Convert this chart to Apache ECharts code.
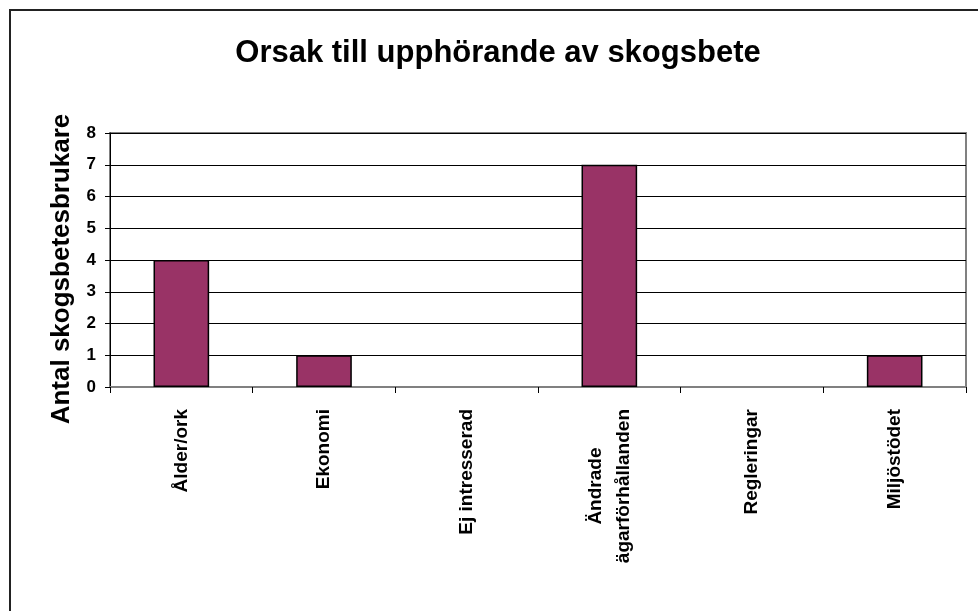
<!DOCTYPE html>
<html>
<head>
<meta charset="utf-8">
<script src="https://cdn.jsdelivr.net/npm/echarts@6/dist/echarts.min.js"></script>
<style>
  html, body { margin: 0; padding: 0; background: #fff; }
  #frame { position: absolute; left: 9px; top: 9px; width: 1000px; height: 700px;
    border-left: 2px solid #222; border-top: 2px solid #222; box-sizing: border-box; }
  #chart { position: absolute; left: 0; top: 0; width: 978px; height: 611px; }
</style>
</head>
<body>
<div id="frame"></div>
<div id="chart"></div>
<script>
// Orsak till upphörande av skogsbete
const categories = ['Ålder/ork', 'Ekonomi', 'Ej intresserad', 'Ändrade\nägarförhållanden', 'Regleringar', 'Miljöstödet']
const counts = [4, 1, 0, 7, 0, 1]
const yTicks = [0, 1, 2, 3, 4, 5, 6, 7, 8]

const FONT = 'Liberation Sans, Arial, sans-serif'

const chart = echarts.init(document.getElementById('chart'), null, { renderer: 'canvas' })

chart.setOption({
  backgroundColor: 'transparent',
  animation: false,
  title: {
    text: 'Orsak till upphörande av skogsbete',
    left: 493,
    top: 33,
    textAlign: 'center',
    textStyle: { fontFamily: FONT, fontWeight: 'bold', fontSize: 31, color: '#000' },
  },
  grid: {
    left: 110, right: 12, top: 133, bottom: 224,
    show: true, borderColor: '#808080', borderWidth: 2, backgroundColor: '#fff',
  },
  xAxis: {
    type: 'category',
    data: categories,
    axisLine: { lineStyle: { color: '#808080', width: 2 } },
    axisTick: { show: true, length: 6, lineStyle: { color: '#000', width: 1 } },
    axisLabel: {
      interval: 0,
      rotate: 90,
      margin: 22,
      color: '#000',
      fontFamily: FONT,
      fontWeight: 'bold',
      fontSize: 19,
      lineHeight: 28,
      formatter: v => v.split('\n').map(s => '{c|' + s + '}').join('\n'),
      rich: { c: { align: 'center', fontFamily: FONT, fontWeight: 'bold', fontSize: 19, lineHeight: 28, color: '#000' } },
    },
    splitLine: { show: false },
  },
  yAxis: {
    type: 'value',
    min: yTicks[0],
    max: yTicks[yTicks.length - 1],
    interval: 1,
    name: 'Antal skogsbetesbrukare',
    nameLocation: 'middle',
    nameRotate: 90,
    nameGap: 35,
    nameTextStyle: { fontFamily: FONT, fontWeight: 'bold', fontSize: 26, color: '#000', padding: [0, 18, 0, 0] },
    axisLine: { show: true, lineStyle: { color: '#000', width: 1 } },
    axisTick: { show: true, length: 5, lineStyle: { color: '#000' } },
    axisLabel: { margin: 14, color: '#000', fontFamily: FONT, fontWeight: 'bold', fontSize: 17 },
    splitLine: { show: true, lineStyle: { color: '#000', width: 1 } },
  },
  series: [{
    type: 'bar',
    // zero-height bars get no outline, as in the original
    data: counts.map(v => (v === 0 ? { value: v, itemStyle: { borderWidth: 0 } } : v)),
    barCategoryGap: '61%',
    itemStyle: { color: '#993366', borderColor: '#000', borderWidth: 1.5 },
  }],
})
</script>
</body>
</html>
